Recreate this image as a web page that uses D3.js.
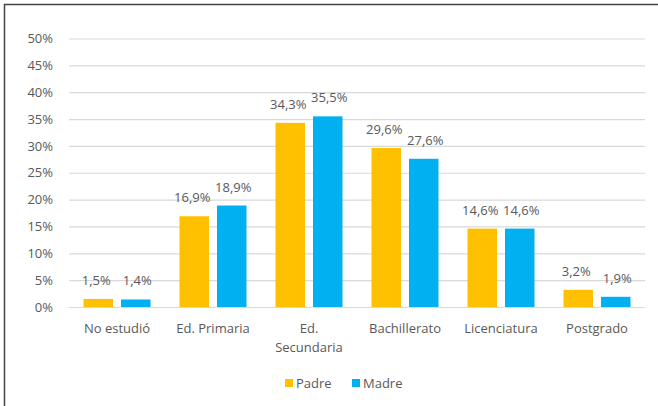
<!DOCTYPE html>
<html><head><meta charset="utf-8">
<script src="https://cdn.jsdelivr.net/npm/d3@7"></script>
<style>body{margin:0;background:#fff;} svg{display:block;}</style>
</head><body>
<script>
const categories = ["No estudió", "Ed. Primaria", "Ed. Secundaria", "Bachillerato", "Licenciatura", "Postgrado"];
const categoryLines = [["No estudió"], ["Ed. Primaria"], ["Ed.", "Secundaria"], ["Bachillerato"], ["Licenciatura"], ["Postgrado"]];
const seriesNames = ["Padre", "Madre"];
const padre = [1.5, 16.9, 34.3, 29.6, 14.6, 3.2];
const madre = [1.4, 18.9, 35.5, 27.6, 14.6, 1.9];
const yTicks = [0, 5, 10, 15, 20, 25, 30, 35, 40, 45, 50];
const colors = ["#FFC000", "#00B0F0"];

(function () {
const W = 658, H = 406;
const font = "'Open Sans', 'Liberation Sans', sans-serif";
const fs = "13px";
const svg = d3.select("body").append("svg").attr("width", W).attr("height", H);
svg.append("rect").attr("width", W).attr("height", H).attr("fill", "#fff");
svg.append("path").attr("d", `M4.5,${H} V4.5 H${W}`).attr("fill", "none").attr("stroke", "#444").attr("stroke-width", 1.5);

const mLeft = 69, mRight = 645, mTop = 38.5, mBottom = 307;
const x = d3.scaleBand().domain(categories).range([mLeft, mRight]).paddingInner(0).paddingOuter(0);
const xs = d3.scaleBand().domain(seriesNames).range([0, x.bandwidth()]).paddingInner(0.213).paddingOuter(0.387);
const y = d3.scaleLinear().domain([0, 50]).range([mBottom, mTop]);

const yAxis = d3.axisLeft(y).tickValues(yTicks).tickFormat(d => d + "%").tickSize(-(mRight - mLeft)).tickPadding(16);
const ga = svg.append("g").attr("transform", `translate(${mLeft},0)`).call(yAxis);
ga.select(".domain").remove();
ga.selectAll(".tick line").attr("stroke", "#d9d9d9").attr("stroke-width", 1.2);
ga.selectAll(".tick text").attr("fill", "#595959").style("font-family", font).style("font-size", fs);

const data = categories.map((c, i) => ({c, vals: [padre[i], madre[i]]}));
const groups = svg.selectAll("g.cat").data(data).enter().append("g").attr("class", "cat").attr("transform", d => `translate(${x(d.c)},0)`);
groups.selectAll("rect").data(d => d.vals.map((v, j) => ({v, s: seriesNames[j], j})))
  .enter().append("rect")
  .attr("x", d => xs(d.s)).attr("width", xs.bandwidth())
  .attr("y", d => y(d.v)).attr("height", d => y(0) - y(d.v))
  .attr("fill", d => colors[d.j]);
groups.selectAll("text.lbl").data(d => d.vals.map((v, j) => ({v, s: seriesNames[j], j})))
  .enter().append("text").attr("class", "lbl")
  .attr("x", d => xs(d.s) + xs.bandwidth() / 2 + (d.j === 0 ? -2 : 1.5))
  .attr("y", d => y(d.v) - 14)
  .attr("text-anchor", "middle")
  .attr("fill", "#595959").style("font-family", font).style("font-size", fs)
  .text(d => d.v.toFixed(1).replace(".", ",") + "%");

const xl = svg.selectAll("text.xl").data(categories).enter().append("text").attr("class", "xl")
  .attr("x", d => x(d) + x.bandwidth() / 2).attr("y", 333)
  .attr("text-anchor", "middle").attr("fill", "#595959").style("font-family", font).style("font-size", fs);
xl.each(function(d, i) {
  const t = d3.select(this);
  categoryLines[i].forEach((ln, k) => t.append("tspan").attr("x", x(d) + x.bandwidth() / 2).attr("dy", k === 0 ? 0 : 19).text(ln));
});

const legX = [285, 352];
const lg = svg.selectAll("g.leg").data(seriesNames).enter().append("g").attr("class", "leg").attr("transform", (d, i) => `translate(${legX[i]},379)`);
lg.append("rect").attr("width", 8).attr("height", 8).attr("fill", (d, i) => colors[i]);
lg.append("text").attr("x", 11).attr("y", 8.5).attr("fill", "#595959").style("font-family", font).style("font-size", fs).text(d => d);
})();
</script>
</body></html>
